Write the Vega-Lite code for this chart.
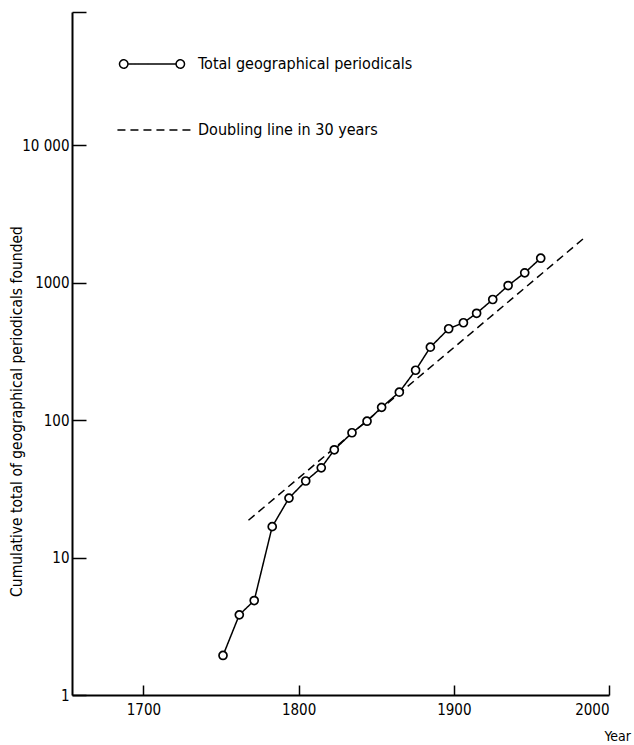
{
  "$schema": "https://vega.github.io/schema/vega-lite/v6.json",
  "width": 537,
  "height": 683,
  "autosize": "none",
  "padding": {"left": 72, "top": 12, "right": 25, "bottom": 50},
  "background": "white",
  "config": {
    "view": {"stroke": null},
    "font": "DejaVu Sans Condensed",
    "axis": {"grid": false, "domainColor": "black", "domainWidth": 2, "tickColor": "black", "tickWidth": 1.5, "labelColor": "black", "titleColor": "black", "labelFont": "DejaVu Sans Condensed", "titleFont": "DejaVu Sans Condensed", "titleFontWeight": "normal"},
    "legend": {"labelFont": "DejaVu Sans Condensed"}
  },
  "data": {
    "values": [
      {"series": "Total geographical periodicals", "year": 1751.3, "value": 1.94},
      {"series": "Total geographical periodicals", "year": 1761.8, "value": 3.83},
      {"series": "Total geographical periodicals", "year": 1771.4, "value": 4.87},
      {"series": "Total geographical periodicals", "year": 1783.0, "value": 16.8},
      {"series": "Total geographical periodicals", "year": 1793.8, "value": 27.1},
      {"series": "Total geographical periodicals", "year": 1804.6, "value": 36.1},
      {"series": "Total geographical periodicals", "year": 1814.6, "value": 45.0},
      {"series": "Total geographical periodicals", "year": 1823.0, "value": 60.9},
      {"series": "Total geographical periodicals", "year": 1834.4, "value": 81.0},
      {"series": "Total geographical periodicals", "year": 1844.1, "value": 98.3},
      {"series": "Total geographical periodicals", "year": 1853.5, "value": 124},
      {"series": "Total geographical periodicals", "year": 1864.9, "value": 160},
      {"series": "Total geographical periodicals", "year": 1875.4, "value": 231},
      {"series": "Total geographical periodicals", "year": 1884.9, "value": 340},
      {"series": "Total geographical periodicals", "year": 1896.7, "value": 463},
      {"series": "Total geographical periodicals", "year": 1906.2, "value": 512},
      {"series": "Total geographical periodicals", "year": 1914.7, "value": 600},
      {"series": "Total geographical periodicals", "year": 1925.1, "value": 756},
      {"series": "Total geographical periodicals", "year": 1935.0, "value": 955},
      {"series": "Total geographical periodicals", "year": 1945.7, "value": 1182},
      {"series": "Total geographical periodicals", "year": 1956.0, "value": 1510},
      {"series": "Doubling line in 30 years", "year": 1767.7, "value": 18.7},
      {"series": "Doubling line in 30 years", "year": 1983.4, "value": 2090}
    ]
  },
  "encoding": {
    "x": {
      "field": "year", "type": "quantitative",
      "scale": {"domain": [1654, 2000], "nice": false, "zero": false},
      "axis": {
        "values": [1700, 1800, 1900, 2000], "format": "d",
        "tickSize": -10, "labelPadding": 17, "labelFontSize": 15,
        "title": "Year", "titleFontSize": 14, "titleX": 532, "titleY": 45,
        "titleAlign": "left", "titleBaseline": "alphabetic"
      }
    },
    "y": {
      "field": "value", "type": "quantitative",
      "scale": {"type": "log", "domain": [1, 93500], "nice": false},
      "axis": {
        "values": [1, 10, 100, 1000, 10000, 93500],
        "labelExpr": "datum.value > 50000 ? '' : datum.value == 10000 ? '10 000' : format(datum.value, 'd')",
        "tickSize": -14, "labelPadding": 17, "labelFontSize": 15,
        "title": "Cumulative total of geographical periodicals founded",
        "titleFontSize": 15.5, "titleX": -48, "titleY": 399, "titleAlign": "center", "titleBaseline": "bottom", "titleAngle": 270
      }
    }
  },
  "layer": [
    {
      "mark": {"type": "line", "color": "black", "strokeWidth": 1.5},
      "encoding": {
        "strokeDash": {
          "field": "series", "type": "nominal",
          "scale": {"domain": ["Total geographical periodicals", "Doubling line in 30 years"], "range": [[1, 0], [8, 5]]},
          "legend": {
            "orient": "none", "legendX": 47, "legendY": 19, "padding": 0,
            "title": null, "labelFontSize": 16, "labelColor": "black", "labelOffset": 13, "labelLimit": 500,
            "rowPadding": 25,
            "symbolSize": 4096, "symbolStrokeWidth": 1.5, "symbolStrokeColor": "black", "symbolFillColor": "white",
            "symbolType": "M-1.015,0A0.131,0.131,0,1,1,-0.753,0A0.131,0.131,0,1,1,-1.015,0Z M-0.753,0L0.753,0 M0.753,0A0.131,0.131,0,1,1,1.015,0A0.131,0.131,0,1,1,0.753,0Z",
            "encode": {
              "symbols": {
                "update": {
                  "shape": {"signal": "datum.label == 'Doubling line in 30 years' ? 'M-1.08,0L1.26,0' : 'M-1.015,0A0.131,0.131,0,1,1,-0.753,0A0.131,0.131,0,1,1,-1.015,0Z M-0.753,0L0.753,0 M0.753,0A0.131,0.131,0,1,1,1.015,0A0.131,0.131,0,1,1,0.753,0Z'"},
                  "stroke": {"value": "black"},
                  "fill": {"value": "white"}
                }
              }
            }
          }
        }
      }
    },
    {
      "transform": [{"filter": "datum.series == 'Total geographical periodicals'"}],
      "mark": {"type": "point", "shape": "circle", "filled": true, "fill": "white", "stroke": "black", "strokeWidth": 1.7, "size": 64, "opacity": 1}
    }
  ]
}
